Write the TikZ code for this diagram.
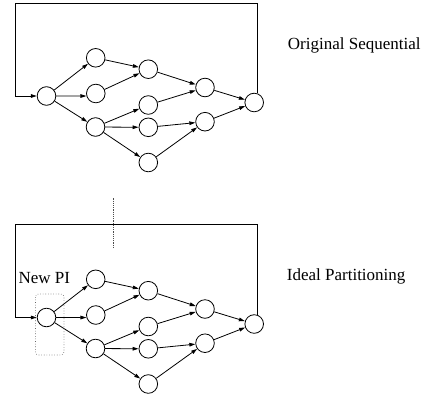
\documentclass[tikz,border=0pt]{standalone}
\usepackage{fontspec}
\setmainfont{Liberation Serif}
\usetikzlibrary{arrows.meta}

% one copy of the sequential graph: #1 = name prefix, #2 = vertical offset
\newcommand\graphcopy[2]{%
  \begin{scope}[shift={(0,#2)}]
    \node[st] (#1a)  at (46.5,96)   {};
    \node[st] (#1b1) at (95.7,57.8) {};
    \node[st] (#1b2) at (95.8,93.5) {};
    \node[st] (#1b3) at (95.5,127)  {};
    \node[st] (#1c1) at (148.3,69.2) {};
    \node[st] (#1c2) at (148.3,105) {};
    \node[st] (#1c3) at (148.3,127.3) {};
    \node[st] (#1c4) at (148.3,162.5) {};
    \node[st] (#1d1) at (205,87.5)  {};
    \node[st] (#1d2) at (205,121.7) {};
    \node[st] (#1e)  at (254.2,102.5) {};
    \coordinate (#1tl) at (15,3.3);
    \foreach \u/\v in {a/b1,a/b3,b1/c1,b2/c1,b3/c2,b3/c3,b3/c4,
                       c1/d1,c2/d1,c3/d2,c4/d2,d1/e,d2/e}
      \draw[arr] (#1\u) -- (#1\v);
    \draw[arr] (#1a.east) -- (#1b2.195);
    % feedback loop from the last state back to the first
    \draw[arr] (#1e.70) |- (#1tl) |- (#1a.west);
  \end{scope}}

\begin{document}
\begin{tikzpicture}[x=1pt,y=-1pt,
  st/.style={circle,draw,line width=0.8pt,minimum size=18.6pt,inner sep=0pt},
  arr/.style={line width=0.8pt,-{Triangle[length=6pt,width=3.6pt]}},
  lbl/.style={anchor=base west,inner sep=0pt,font=\fontsize{17}{20}\selectfont}]
\useasboundingbox (0,0) rectangle (425,394);

\graphcopy{s}{0}
\graphcopy{p}{221.5}

% separator between the two graphs
\draw[line width=0.8pt,dash pattern=on 1.2pt off 1pt,black!70] (113.3,198.3) -- (113.3,248.3);

% partition boundary around the new primary input
\draw[line width=0.6pt,dotted,black!60,rounded corners=3pt] (35.5,294) rectangle (64,355);

\node[lbl] (orig) at (287.7,49.3) {Original Sequential};
\node[lbl] (ideal) at (286.7,280.7) {Ideal Partitioning};
\node[lbl] (newpi) at (18.3,283) {New PI};
\end{tikzpicture}
\end{document}
